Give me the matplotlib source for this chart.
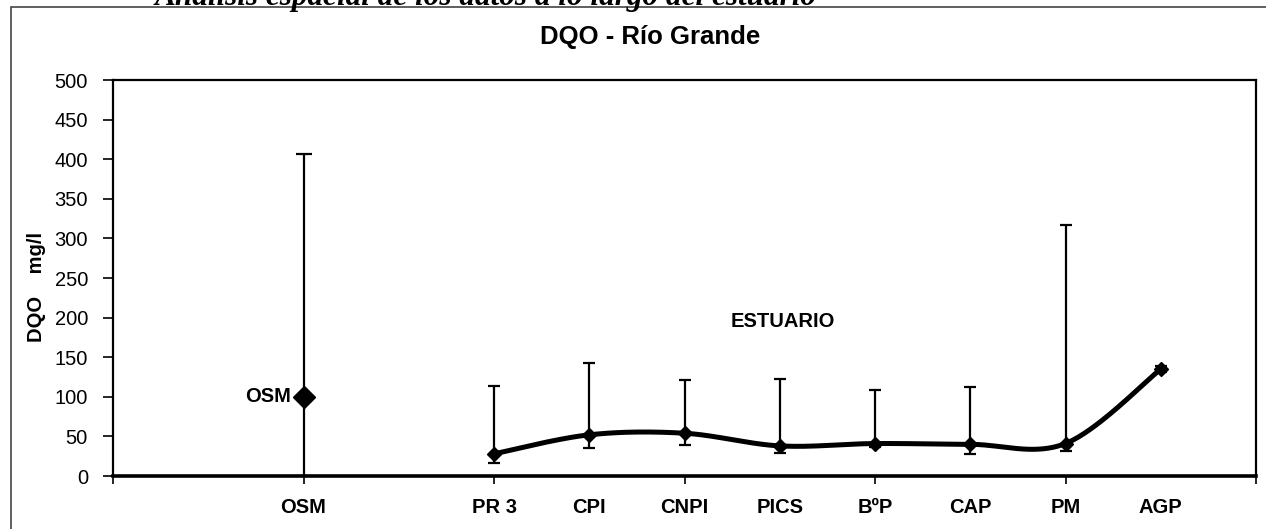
import numpy as np
import matplotlib
matplotlib.use('Agg')
import matplotlib.pyplot as plt
from matplotlib.patches import Rectangle

plt.rcParams['font.family'] = ['Liberation Sans', 'DejaVu Sans']

# Data (DQO, mg/l)
osm_label = 'OSM'
osm_mean = 100
osm_max = 407
osm_min = 0

est_labels = ['PR 3', 'CPI', 'CNPI', 'PICS', 'BºP', 'CAP', 'PM', 'AGP']
est_mean = [28, 52, 54, 38, 41, 40, 41, 135]
est_max = [114, 143, 121, 123, 108, 113, 317, 139]
est_min = [17, 35, 39, 29, 36, 28, 32, 131]

y_ticks = [0, 50, 100, 150, 200, 250, 300, 350, 400, 450, 500]


def smooth_curve(x, y, n=40):
    '''
    Excel-like smoothed line (Catmull-Rom as cubic Bezier)
    '''
    x = np.asarray(x, float)
    y = np.asarray(y, float)
    px = np.concatenate([[x[0]], x, [x[-1]]])
    py = np.concatenate([[y[0]], y, [y[-1]]])
    xs, ys = [], []
    t = np.linspace(0, 1, n)
    for i in range(1, len(px) - 2):
        p0 = np.array([px[i], py[i]])
        p3 = np.array([px[i + 1], py[i + 1]])
        c1 = p0 + (p3 - np.array([px[i - 1], py[i - 1]])) / 6
        c2 = p3 - (np.array([px[i + 2], py[i + 2]]) - p0) / 6
        b = (np.outer((1 - t) ** 3, p0) + np.outer(3 * (1 - t) ** 2 * t, c1)
             + np.outer(3 * (1 - t) * t ** 2, c2) + np.outer(t ** 3, p3))
        xs.extend(b[:, 0])
        ys.extend(b[:, 1])
    return xs, ys


W, H = 1266, 529
fig = plt.figure(figsize=(W / 100, H / 100), dpi=100)
ax = fig.add_axes([113 / W, 1 - 476 / H, (1256 - 113) / W, (476 - 80) / H])

# category positions (OSM apart from the estuary stations)
osm_x = 2
est_x = np.arange(4, 4 + len(est_labels))

# OSM point with its range
ax.errorbar([osm_x], [osm_mean], yerr=[[osm_mean - osm_min], [osm_max - osm_mean]],
            fmt='D', color='black', markersize=11.5, elinewidth=1.6, capsize=6,
            capthick=1.6, zorder=3)
ax.text(osm_x - 0.13, osm_mean, osm_label, ha='right', va='center',
        fontsize=14.5, fontweight='bold')

# Estuary stations
yerr = [np.array(est_mean) - np.array(est_min), np.array(est_max) - np.array(est_mean)]
ax.errorbar(est_x, est_mean, yerr=yerr, fmt='none', ecolor='black',
            elinewidth=1.6, capsize=4, capthick=1.6, zorder=2)
sx, sy = smooth_curve(est_x, est_mean)
ax.plot(sx, sy, color='black', linewidth=3.6, solid_capstyle='round', zorder=3)
ax.plot(est_x, est_mean, 'D', color='black', markersize=7, zorder=4)
ax.text(7.03, 195, 'ESTUARIO', ha='center', va='center', fontsize=14.5,
        fontweight='bold')

ax.set_xlim(0, 12)
ax.set_ylim(0, 500)
ax.set_yticks(y_ticks)
ax.set_xticks(np.arange(0, 13, 2))
ax.set_xticklabels([])
# station names as minor tick labels (some share a place with a major tick)
ax.xaxis.remove_overlapping_locs = False
ax.set_xticks([osm_x] + list(est_x), minor=True)
ax.set_xticklabels([osm_label] + est_labels, minor=True, fontsize=14.5,
                   fontweight='bold')
ax.tick_params(axis='x', which='minor', length=0, pad=16)
ax.tick_params(axis='x', which='major', length=6, width=1.2, direction='out')
ax.tick_params(axis='y', length=7, width=1.2, direction='out', pad=11,
               labelsize=14.5)
for side in ['left', 'right', 'top']:
    ax.spines[side].set_linewidth(1.6)
ax.spines['bottom'].set_linewidth(2.6)

fig.text(650 / W, 1 - 37 / H, 'DQO - Río Grande', ha='center', va='center',
         fontsize=18.5, fontweight='bold')
fig.text(37 / W, 1 - 287 / H, 'DQO    mg/l', rotation=90, ha='center',
         va='center', fontsize=14.5, fontweight='bold')

# cut-off heading above the chart frame
fig.text(155 / W, 1 - 5 / H, 'Análisis espacial de los datos a lo largo del estuario',
         ha='left', va='baseline', fontsize=22.5, fontweight='bold',
         fontstyle='italic', family='Liberation Serif')

# chart frame (continues past the right and bottom edge)
fig.add_artist(Rectangle((11 / W, -0.1), 1.2, 1 - 7 / H + 0.1,
                         transform=fig.transFigure, fill=False,
                         edgecolor='#444444', linewidth=1.2))

fig.savefig('out.png', dpi=100)
